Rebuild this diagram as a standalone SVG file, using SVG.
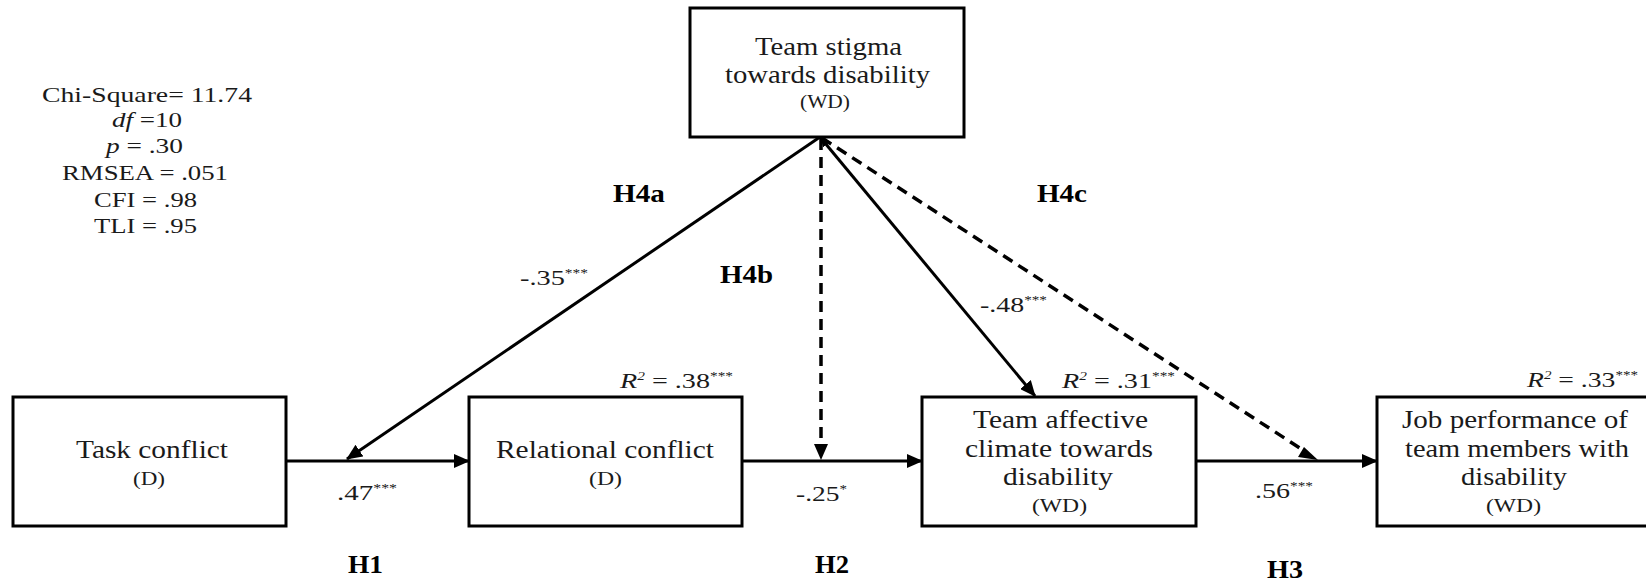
<svg xmlns="http://www.w3.org/2000/svg" width="1646" height="581" viewBox="0 0 1646 581">
<style>
.box{fill:#fff;stroke:#000;stroke-width:3}
.t{font-family:"Liberation Serif","Times New Roman",serif;font-size:25px;fill:#1a1a1a}
.s{font-family:"Liberation Serif","Times New Roman",serif;font-size:19px;fill:#1a1a1a}
.c{font-family:"Liberation Serif","Times New Roman",serif;font-size:22px;fill:#1a1a1a}
.st{font-family:"Liberation Serif","Times New Roman",serif;font-size:21px;fill:#1a1a1a}
.h{font-family:"Liberation Serif","Times New Roman",serif;font-size:25px;font-weight:bold;fill:#000}
.sup{font-size:12px}
.ln{stroke:#000;stroke-width:3;fill:none}
.dash{stroke:#000;stroke-width:3.5;fill:none;stroke-dasharray:11 7}
</style>
<defs>
<marker id="ah" markerUnits="userSpaceOnUse" markerWidth="16" markerHeight="14" refX="15" refY="7" orient="auto">
<path d="M0,0 L16,7 L0,14 Z" fill="#000"/>
</marker>
<marker id="ahs" markerUnits="userSpaceOnUse" markerWidth="10" markerHeight="8" refX="0" refY="4" orient="auto">
<path d="M10,0 L0,4 L10,8 Z" fill="#000"/>
</marker>
</defs>

<g id="stats">
<text class="st" x="42" y="102" textLength="210" lengthAdjust="spacingAndGlyphs">Chi-Square= 11.74</text>
<text class="st" x="112" y="127" textLength="70" lengthAdjust="spacingAndGlyphs"><tspan font-style="italic">df</tspan> =10</text>
<text class="st" x="106" y="153" textLength="77" lengthAdjust="spacingAndGlyphs"><tspan font-style="italic">p</tspan> = .30</text>
<text class="st" x="62" y="180" textLength="166" lengthAdjust="spacingAndGlyphs">RMSEA = .051</text>
<text class="st" x="94" y="207" textLength="103" lengthAdjust="spacingAndGlyphs">CFI = .98</text>
<text class="st" x="94" y="233" textLength="103" lengthAdjust="spacingAndGlyphs">TLI = .95</text>
</g>

<g id="connectors">
<line class="ln" x1="286" y1="461" x2="469" y2="461" marker-end="url(#ah)"/>
<line class="ln" x1="742" y1="461" x2="922" y2="461" marker-end="url(#ah)"/>
<line class="ln" x1="1196" y1="461" x2="1377" y2="461" marker-end="url(#ah)"/>
<line class="ln" x1="820" y1="137" x2="347" y2="459" marker-end="url(#ah)"/>
<line class="dash" x1="821" y1="139" x2="821" y2="446"/>
<path d="M814,444 L828,444 L821,460 Z" fill="#000"/>
<line class="ln" x1="820" y1="137" x2="1035" y2="396" marker-end="url(#ah)" marker-start="url(#ahs)"/>
<line class="dash" x1="822" y1="138" x2="1306" y2="452"/>
<path d="M1304,447 L1318,460 L1298,457 Z" fill="#000"/>
</g>

<g id="node-stigma">
<rect class="box" x="690" y="8" width="274" height="129"/>
<text class="t" x="755" y="55" textLength="147" lengthAdjust="spacingAndGlyphs">Team stigma</text>
<text class="t" x="725" y="83" textLength="205" lengthAdjust="spacingAndGlyphs">towards disability</text>
<text class="s" x="800" y="108" textLength="50" lengthAdjust="spacingAndGlyphs">(WD)</text>
</g>

<g id="node-task">
<rect class="box" x="13" y="397" width="273" height="129"/>
<text class="t" x="76" y="458" textLength="152" lengthAdjust="spacingAndGlyphs">Task conflict</text>
<text class="s" x="133" y="485" textLength="32" lengthAdjust="spacingAndGlyphs">(D)</text>
</g>

<g id="node-relational">
<rect class="box" x="469" y="397" width="273" height="129"/>
<text class="t" x="496" y="458" textLength="218" lengthAdjust="spacingAndGlyphs">Relational conflict</text>
<text class="s" x="589" y="485" textLength="33" lengthAdjust="spacingAndGlyphs">(D)</text>
<text class="c" x="620" y="388" textLength="113" lengthAdjust="spacingAndGlyphs"><tspan font-style="italic">R</tspan><tspan class="sup" font-style="italic" dy="-8">2</tspan><tspan dy="8"> = .38</tspan><tspan class="sup" dy="-8">***</tspan></text>
</g>

<g id="node-affective">
<rect class="box" x="922" y="397" width="274" height="129"/>
<text class="t" x="973" y="428" textLength="175" lengthAdjust="spacingAndGlyphs">Team affective</text>
<text class="t" x="965" y="457" textLength="188" lengthAdjust="spacingAndGlyphs">climate towards</text>
<text class="t" x="1003" y="485" textLength="110" lengthAdjust="spacingAndGlyphs">disability</text>
<text class="s" x="1032" y="512" textLength="55" lengthAdjust="spacingAndGlyphs">(WD)</text>
<text class="c" x="1062" y="388" textLength="113" lengthAdjust="spacingAndGlyphs"><tspan font-style="italic">R</tspan><tspan class="sup" font-style="italic" dy="-8">2</tspan><tspan dy="8"> = .31</tspan><tspan class="sup" dy="-8">***</tspan></text>
</g>

<g id="node-job">
<rect class="box" x="1377" y="397" width="280" height="129"/>
<text class="t" x="1402" y="428" textLength="226" lengthAdjust="spacingAndGlyphs">Job performance of</text>
<text class="t" x="1405" y="457" textLength="224" lengthAdjust="spacingAndGlyphs">team members with</text>
<text class="t" x="1461" y="485" textLength="106" lengthAdjust="spacingAndGlyphs">disability</text>
<text class="s" x="1486" y="512" textLength="55" lengthAdjust="spacingAndGlyphs">(WD)</text>
<text class="c" x="1527" y="387" textLength="111" lengthAdjust="spacingAndGlyphs"><tspan font-style="italic">R</tspan><tspan class="sup" font-style="italic" dy="-8">2</tspan><tspan dy="8"> = .33</tspan><tspan class="sup" dy="-8">***</tspan></text>
</g>

<g id="labels">
<text class="c" x="337" y="500" textLength="60" lengthAdjust="spacingAndGlyphs">.47<tspan class="sup" dy="-8">***</tspan></text>
<text class="c" x="796" y="501" textLength="51" lengthAdjust="spacingAndGlyphs">-.25<tspan class="sup" dy="-8">*</tspan></text>
<text class="c" x="1255" y="498" textLength="58" lengthAdjust="spacingAndGlyphs">.56<tspan class="sup" dy="-8">***</tspan></text>
<text class="c" x="520" y="285" textLength="68" lengthAdjust="spacingAndGlyphs">-.35<tspan class="sup" dy="-8">***</tspan></text>
<text class="c" x="980" y="312" textLength="67" lengthAdjust="spacingAndGlyphs">-.48<tspan class="sup" dy="-8">***</tspan></text>
<text class="h" x="348" y="573" textLength="35" lengthAdjust="spacingAndGlyphs">H1</text>
<text class="h" x="815" y="573" textLength="34" lengthAdjust="spacingAndGlyphs">H2</text>
<text class="h" x="1267" y="578" textLength="36" lengthAdjust="spacingAndGlyphs">H3</text>
<text class="h" x="613" y="202" textLength="52" lengthAdjust="spacingAndGlyphs">H4a</text>
<text class="h" x="720" y="283" textLength="53" lengthAdjust="spacingAndGlyphs">H4b</text>
<text class="h" x="1037" y="202" textLength="50" lengthAdjust="spacingAndGlyphs">H4c</text>
</g>
</svg>
